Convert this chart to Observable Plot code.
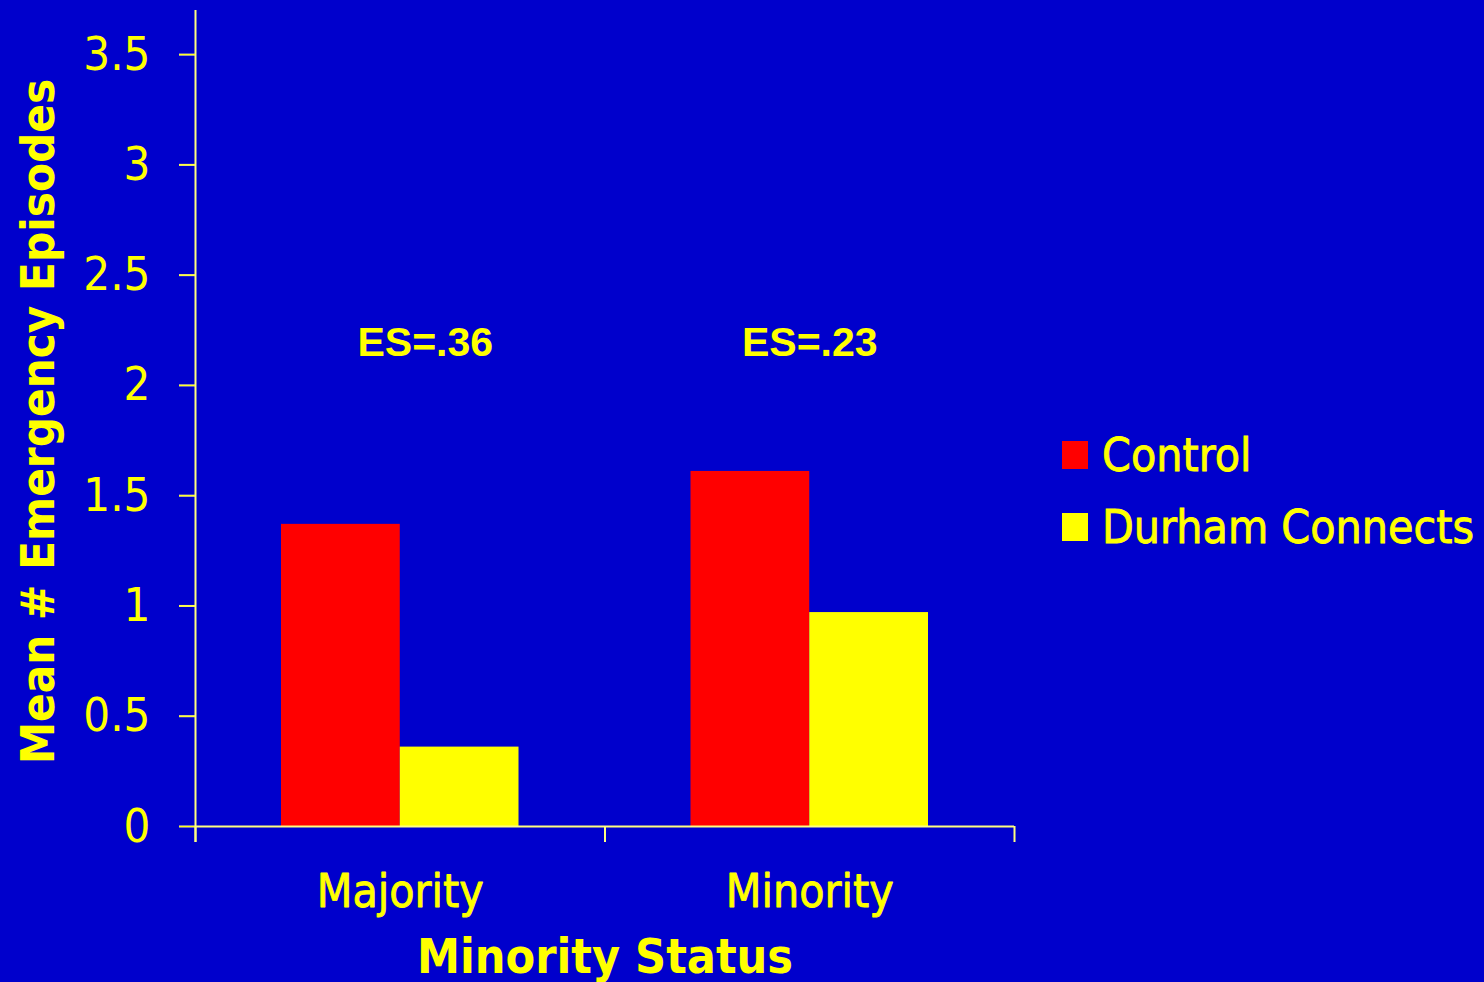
<!DOCTYPE html>
<html>
<head>
<meta charset="utf-8">
<script src="https://cdn.jsdelivr.net/npm/d3@7"></script>
<script src="https://cdn.jsdelivr.net/npm/@observablehq/plot@0.6"></script>
<style>
  html, body { margin: 0; padding: 0; background: #0000cc; }
  #wrap { position: relative; width: 1484px; height: 982px; overflow: hidden; }
  #legend {
    position: absolute; left: 1062px; top: 419px;
    font-family: "DejaVu Sans Condensed", "DejaVu Sans", sans-serif;
    font-stretch: condensed; font-size: 46px; color: #ffff00;
    -webkit-text-stroke: 0.8px #ffff00;
  }
  #legend .row { display: flex; align-items: center; height: 72px; line-height: 72px; white-space: nowrap; }
  #legend .sw { width: 26px; height: 28px; margin-right: 14px; flex: none; }
</style>
</head>
<body>
<div id="wrap"><div id="legend"></div></div>
<script>
// Mean number of emergency episodes by minority status and study arm
const categories = ["Majority", "Minority"];
const seriesNames = ["Control", "Durham Connects"];
const seriesColors = ["#ff0000", "#ffff00"];
const controlValues = [1.37, 1.61];
const durhamValues = [0.36, 0.97];
const effectSizes = ["ES=.36", "ES=.23"];
const yTicks = [0, 0.5, 1, 1.5, 2, 2.5, 3, 3.5];
const yTitle = "Mean # Emergency Episodes";
const xTitle = "Minority Status";

const axisColor = "#ffff80";
const textColor = "#ffff00";
const condensed = "'DejaVu Sans Condensed', 'DejaVu Sans', sans-serif";
const BAR_W = 0.29; // bar width as a fraction of one category slot

// each category occupies [i, i + 1] on a linear x scale; the two bars meet at its centre
const rows = [];
categories.forEach((c, i) => {
  rows.push({category: c, series: seriesNames[0], value: controlValues[i], x1: i + 0.5 - BAR_W, x2: i + 0.5});
  rows.push({category: c, series: seriesNames[1], value: durhamValues[i], x1: i + 0.5, x2: i + 0.5 + BAR_W});
});
const boundaries = d3.range(categories.length + 1);
const esRows = effectSizes.map((t, i) => ({label: t, x: i + 0.5}));

const chart = Plot.plot({
  width: 1484,
  height: 982,
  marginLeft: 195,
  marginRight: 470,
  marginTop: 10,
  marginBottom: 156,
  style: {background: "#0000cc", color: textColor, fontFamily: condensed, overflow: "visible"},
  x: {domain: [0, categories.length], axis: null},
  y: {domain: [0, 3.7], axis: null},
  color: {domain: seriesNames, range: seriesColors},
  marks: [
    Plot.rectY(rows, {x1: "x1", x2: "x2", y: "value", fill: "series"}),
    // axis lines
    Plot.ruleY([0], {stroke: axisColor, strokeWidth: 2}),
    Plot.ruleX([0], {stroke: axisColor, strokeWidth: 2, insetBottom: -16}),
    // y ticks
    Plot.axisY({
      ticks: yTicks, tickSize: 16, label: null, text: null,
      stroke: axisColor, strokeWidth: 2
    }),
    // y tick labels
    Plot.axisY({
      ticks: yTicks, tickSize: 16, tickPadding: 29, label: null, tick: null,
      fill: textColor, stroke: textColor, strokeWidth: 0.8,
      fontSize: 47, fontFamily: condensed, tickFormat: d => String(d)
    }),
    // x ticks at category boundaries
    Plot.axisX({
      ticks: boundaries, tickSize: 16, label: null, tickFormat: () => "",
      stroke: axisColor, strokeWidth: 2
    }),
    // category names
    Plot.text(categories, {
      x: (d, i) => i + 0.5, frameAnchor: "bottom", lineAnchor: "bottom", dy: 80,
      text: d => d, fontSize: 46, fontFamily: condensed, fill: textColor,
      stroke: textColor, strokeWidth: 0.8
    }),
    // effect size annotations
    Plot.text([esRows[0]], {
      x: "x", y: 2.135, text: "label", lineAnchor: "bottom", dx: 25,
      fontSize: 41, fontWeight: "bold", fontFamily: "'Liberation Sans', Arial, sans-serif", fill: textColor
    }),
    Plot.text([esRows[1]], {
      x: "x", y: 2.135, text: "label", lineAnchor: "bottom", dx: 0,
      fontSize: 41, fontWeight: "bold", fontFamily: "'Liberation Sans', Arial, sans-serif", fill: textColor
    }),
    // axis titles
    Plot.text([yTitle], {
      frameAnchor: "left", rotate: -90, textAnchor: "middle", lineAnchor: "top", dx: -175, dy: 3,
      fontSize: 47, fontWeight: "bold", fontFamily: condensed, fill: textColor
    }),
    Plot.text([xTitle], {
      frameAnchor: "bottom", lineAnchor: "bottom", dy: 146,
      fontSize: 48, fontWeight: "bold", fontFamily: condensed, fill: textColor
    })
  ]
});

document.getElementById("wrap").prepend(chart);

const legend = document.getElementById("legend");
seriesNames.forEach((name, i) => {
  const row = document.createElement("div");
  row.className = "row";
  const sw = document.createElement("span");
  sw.className = "sw";
  sw.style.background = seriesColors[i];
  const label = document.createElement("span");
  label.textContent = name;
  row.append(sw, label);
  legend.append(row);
});
</script>
</body>
</html>
